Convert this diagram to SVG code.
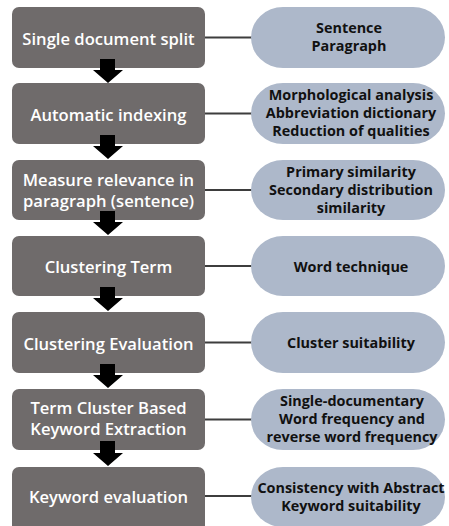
<svg xmlns="http://www.w3.org/2000/svg" width="449" height="526" viewBox="0 0 449 526">
<style>
.box{fill:#6f6b6b}
.pill{fill:#adb8ca}
.lt{font-family:"Open Sans","Noto Sans",sans-serif;font-size:16.6px;font-weight:600;fill:#ffffff;text-anchor:middle}
.rt{font-family:"Open Sans","Noto Sans",sans-serif;font-size:14.4px;font-weight:700;fill:#111111;text-anchor:middle}
.ln{stroke:#3d3d3d;stroke-width:2;fill:none}
.ar{fill:#000000}
</style>
<rect width="449" height="526" fill="#ffffff"/>
<g id="connectors">
<line class="ln" x1="205" y1="37.5" x2="253" y2="37.5"/>
<line class="ln" x1="205" y1="113.5" x2="253" y2="113.5"/>
<line class="ln" x1="205" y1="190" x2="253" y2="190"/>
<line class="ln" x1="205" y1="266" x2="253" y2="266"/>
<line class="ln" x1="205" y1="342.5" x2="253" y2="342.5"/>
<line class="ln" x1="205" y1="419.5" x2="253" y2="419.5"/>
<line class="ln" x1="205" y1="496" x2="253" y2="496"/>
</g>
<g id="n1"><rect class="box" x="12" y="7" width="193" height="61" rx="7"/><text class="lt" x="108.5" y="44.5">Single document split</text></g>
<g id="n2"><rect class="box" x="12" y="83" width="193" height="61" rx="7"/><text class="lt" x="108.5" y="120.5">Automatic indexing</text></g>
<g id="n3"><rect class="box" x="12" y="160" width="193" height="60" rx="7"/><text class="lt" x="108.5" y="185.8">Measure relevance in</text><text class="lt" x="108.5" y="206.8">paragraph (sentence)</text></g>
<g id="n4"><rect class="box" x="12" y="236" width="193" height="60" rx="7"/><text class="lt" x="108.5" y="273">Clustering Term</text></g>
<g id="n5"><rect class="box" x="12" y="312" width="193" height="61" rx="7"/><text class="lt" x="108.5" y="349.5">Clustering Evaluation</text></g>
<g id="n6"><rect class="box" x="12" y="389" width="193" height="61" rx="7"/><text class="lt" x="108.5" y="414.3">Term Cluster Based</text><text class="lt" x="108.5" y="435.3">Keyword Extraction</text></g>
<g id="n7"><rect class="box" x="12" y="467" width="193" height="66" rx="7"/><text class="lt" x="108.5" y="503">Keyword evaluation</text></g>
<g id="p1"><rect class="pill" x="251" y="7" width="194" height="61" rx="32" ry="30.5"/><text class="rt" x="349" y="33">Sentence</text><text class="rt" x="349" y="51">Paragraph</text></g>
<g id="p2"><rect class="pill" x="251" y="83" width="194" height="61" rx="32" ry="30.5"/><text class="rt" x="351" y="100">Morphological analysis</text><text class="rt" x="351" y="118">Abbreviation dictionary</text><text class="rt" x="351" y="136">Reduction of qualities</text></g>
<g id="p3"><rect class="pill" x="251" y="160" width="194" height="60" rx="32" ry="30"/><text class="rt" x="351" y="176.5">Primary similarity</text><text class="rt" x="351" y="194.5">Secondary distribution</text><text class="rt" x="351" y="212.5">similarity</text></g>
<g id="p4"><rect class="pill" x="251" y="236" width="194" height="60" rx="32" ry="30"/><text class="rt" x="351" y="271.5">Word technique</text></g>
<g id="p5"><rect class="pill" x="251" y="312" width="194" height="61" rx="32" ry="30.5"/><text class="rt" x="351" y="348">Cluster suitability</text></g>
<g id="p6"><rect class="pill" x="251" y="389" width="194" height="61" rx="32" ry="30.5"/><text class="rt" x="352" y="406">Single-documentary</text><text class="rt" x="352" y="424">Word frequency and</text><text class="rt" x="352" y="442">reverse word frequency</text></g>
<g id="p7"><rect class="pill" x="251" y="467" width="194" height="60" rx="32" ry="30"/><text class="rt" x="351" y="492.5">Consistency with Abstract</text><text class="rt" x="351" y="510.5">Keyword suitability</text></g>
<g id="arrows">
<polygon class="ar" points="100,59 115,59 115,70 123,70 108,83 93,70 100,70"/>
<polygon class="ar" points="100,135 115,135 115,146 123,146 108,159 93,146 100,146"/>
<polygon class="ar" points="100,211 115,211 115,222 123,222 108,235 93,222 100,222"/>
<polygon class="ar" points="100,287 115,287 115,298 123,298 108,311 93,298 100,298"/>
<polygon class="ar" points="100,364 115,364 115,375 123,375 108,388 93,375 100,375"/>
<polygon class="ar" points="100,441 115,441 115,453 123,453 108,466 93,453 100,453"/>
</g>
</svg>
